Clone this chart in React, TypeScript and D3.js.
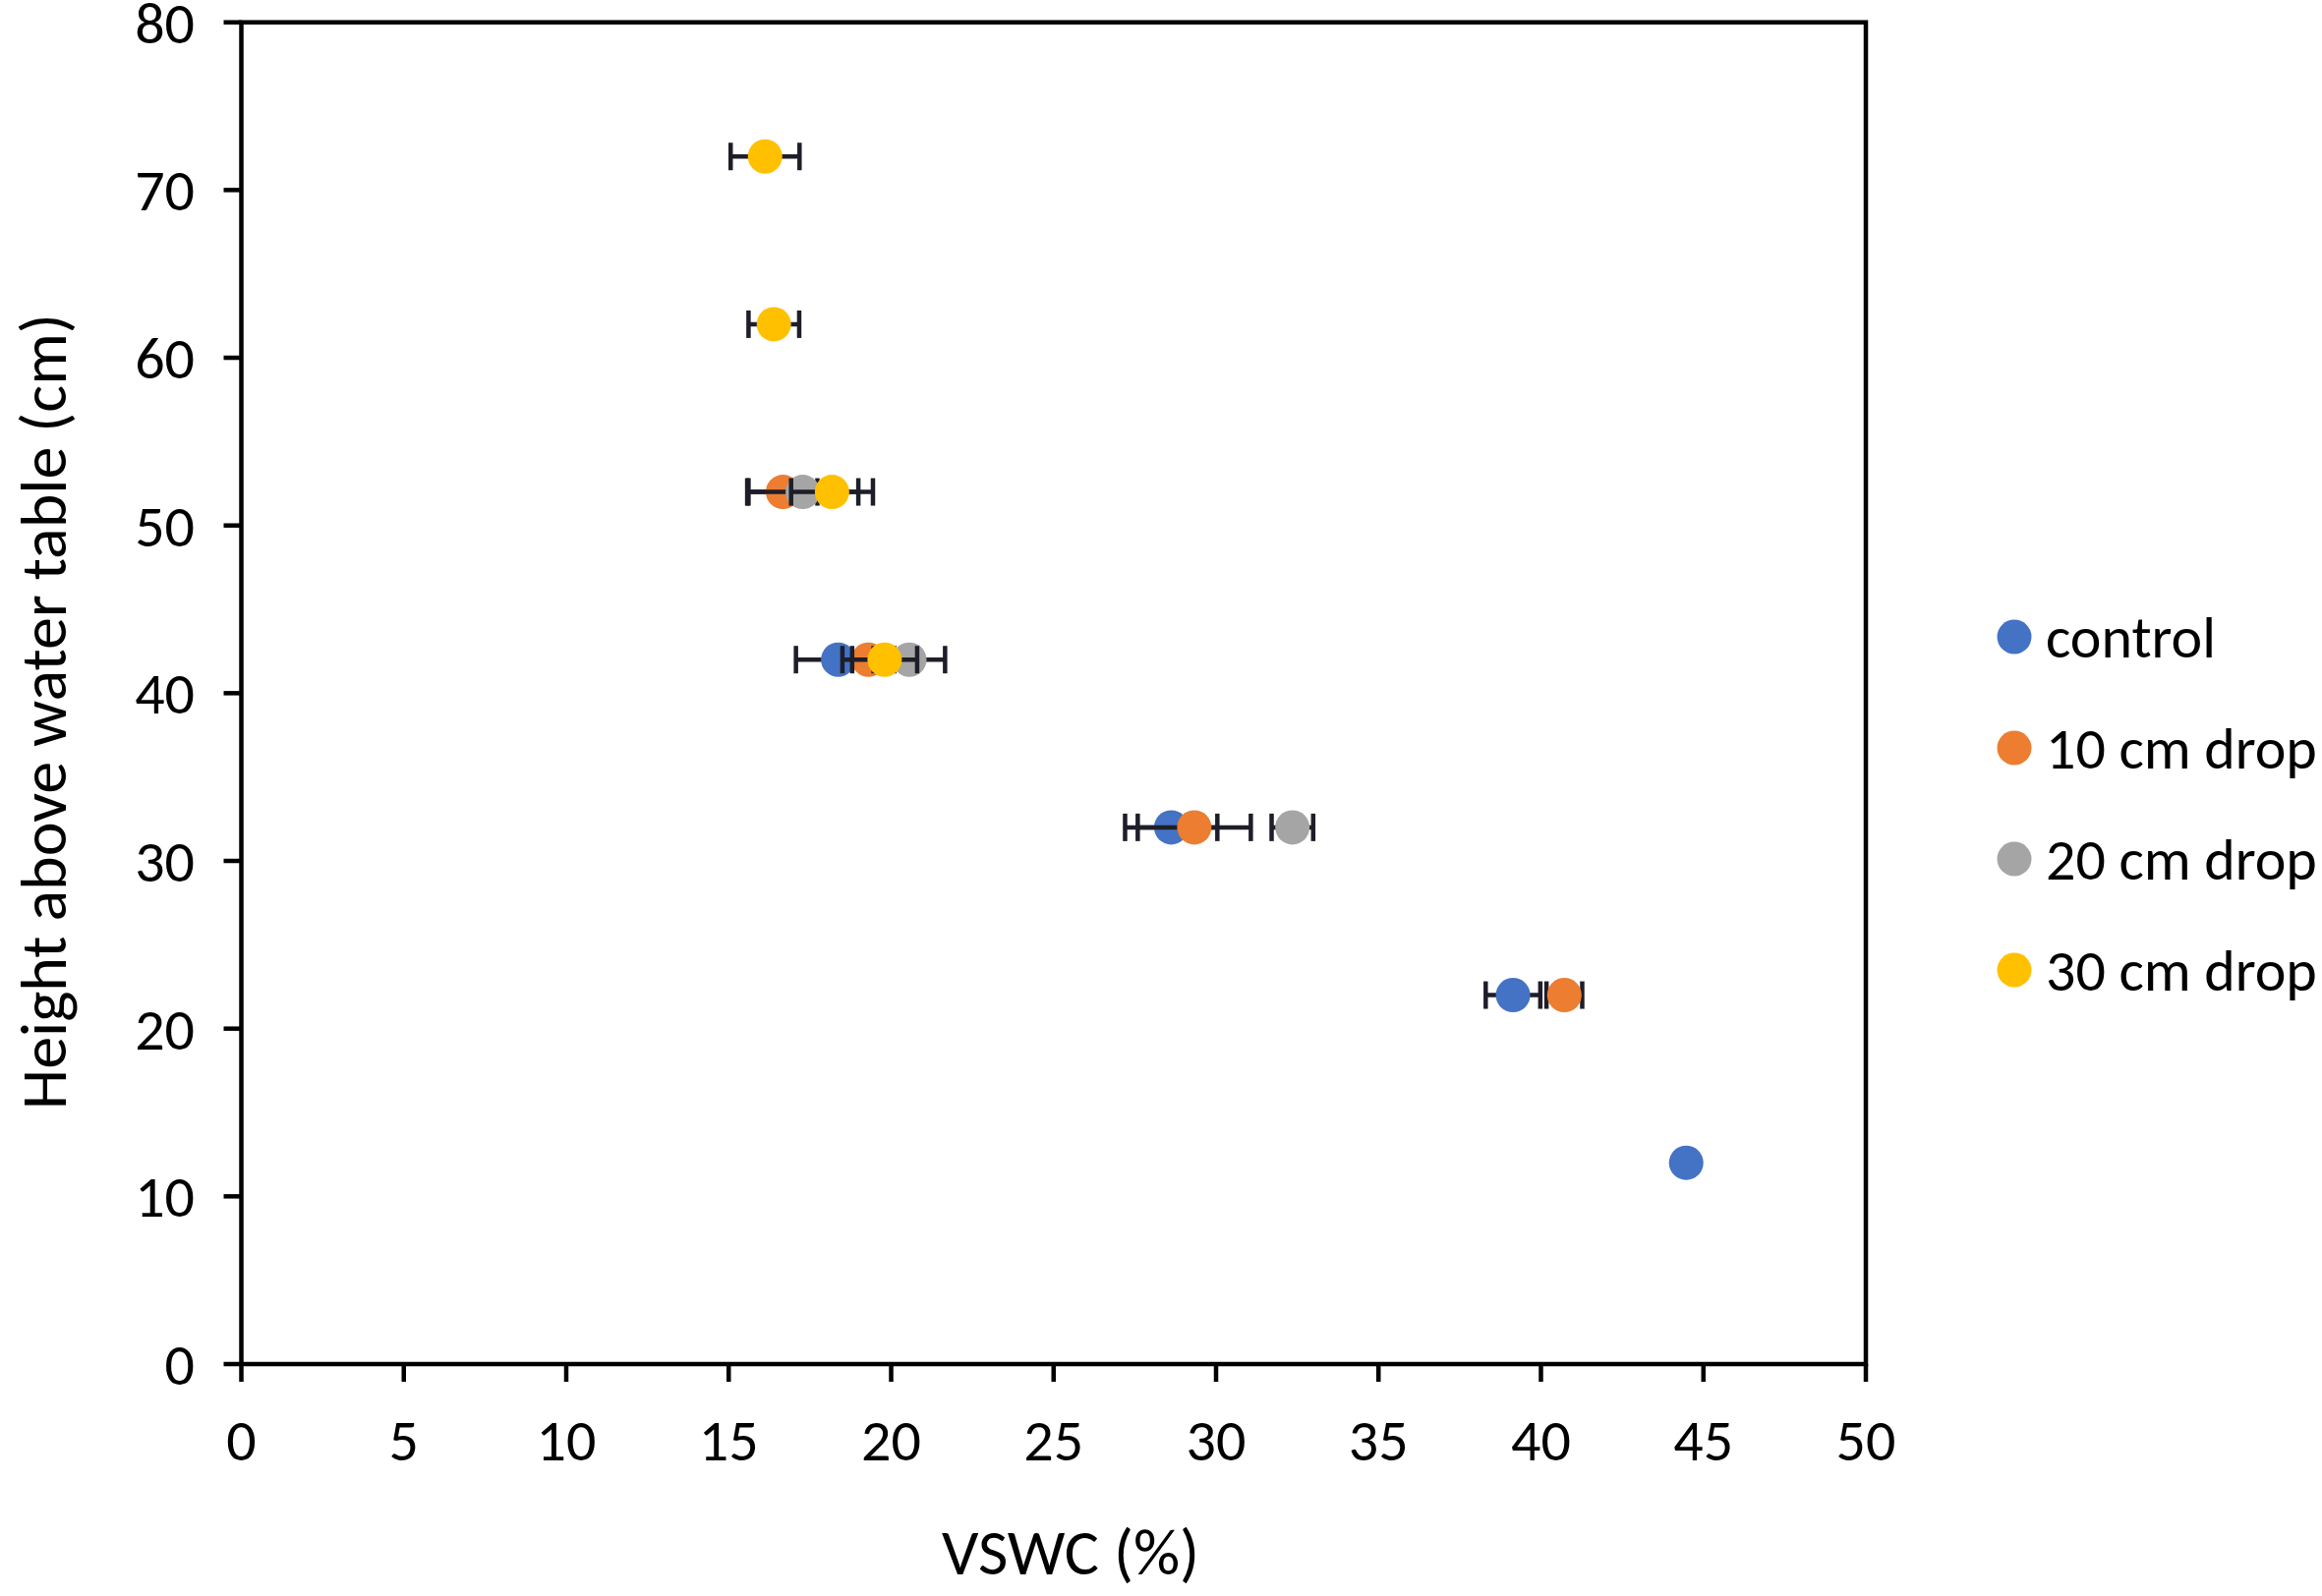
import { scaleLinear } from 'd3'

// Series values (x = VSWC %, y = height, err = ± half-width)
const SERIES_NAMES = ['control', '10 cm drop', '20 cm drop', '30 cm drop']
const SERIES_COLORS = ['#4472C4', '#ED7D31', '#A5A5A5', '#FFC000']

const CONTROL_X = [44.47, 39.14, 28.62, 18.37]
const CONTROL_Y = [12, 22, 32, 42]
const CONTROL_ERR = [0, 0.84, 1.42, 1.3]

const DROP10_X = [40.72, 29.33, 19.3, 16.67]
const DROP10_Y = [22, 32, 42, 52]
const DROP10_ERR = [0.55, 1.74, 0.8, 1.06]

const DROP20_X = [32.35, 20.56, 17.28]
const DROP20_Y = [32, 42, 52]
const DROP20_ERR = [0.64, 1.1, 1.71]

const DROP30_X = [19.8, 18.18, 16.39, 16.12]
const DROP30_Y = [42, 52, 62, 72]
const DROP30_ERR = [1.0, 1.26, 0.78, 1.06]

const X_TICKS = [0, 5, 10, 15, 20, 25, 30, 35, 40, 45, 50]
const Y_TICKS = [0, 10, 20, 30, 40, 50, 60, 70, 80]

const W = 2362
const H = 1624
const LEFT = 245.5
const RIGHT = 1898
const TOP = 22.7
const BOTTOM = 1388
const FONT = 'Carlito, Calibri, Lato, sans-serif'
const TICK_FONT = 60
const R = 17.5
const CAP = 14

export default function App() {
  const x = scaleLinear().domain([0, 50]).range([LEFT, RIGHT])
  const y = scaleLinear().domain([0, 80]).range([BOTTOM, TOP])

  const series = [
    { xs: CONTROL_X, ys: CONTROL_Y, err: CONTROL_ERR },
    { xs: DROP10_X, ys: DROP10_Y, err: DROP10_ERR },
    { xs: DROP20_X, ys: DROP20_Y, err: DROP20_ERR },
    { xs: DROP30_X, ys: DROP30_Y, err: DROP30_ERR },
  ]

  return (
    <svg
      width={W}
      height={H}
      viewBox={`0 0 ${W} ${H}`}
      style={{ position: 'absolute', left: 0, top: 0, background: '#fff' }}
    >
      <rect x={0} y={0} width={W} height={H} fill="#fff" />

      {/* series: error bars first, then markers, per series */}
      {series.map((s, si) => (
        <g key={si}>
          {s.xs.map((v, i) =>
            s.err[i] > 0 ? (
              <g key={i} stroke="#1e1e2a" strokeWidth={4.5}>
                <line x1={x(v - s.err[i])} x2={x(v + s.err[i])} y1={y(s.ys[i])} y2={y(s.ys[i])} />
                <line x1={x(v - s.err[i])} x2={x(v - s.err[i])} y1={y(s.ys[i]) - CAP} y2={y(s.ys[i]) + CAP} />
                <line x1={x(v + s.err[i])} x2={x(v + s.err[i])} y1={y(s.ys[i]) - CAP} y2={y(s.ys[i]) + CAP} />
              </g>
            ) : null
          )}
          {s.xs.map((v, i) => (
            <circle key={'m' + i} cx={x(v)} cy={y(s.ys[i])} r={R} fill={SERIES_COLORS[si]} />
          ))}
        </g>
      ))}

      {/* frame */}
      <rect x={LEFT} y={TOP} width={RIGHT - LEFT} height={BOTTOM - TOP} fill="none" stroke="#000" strokeWidth={4.5} />

      {/* y axis ticks */}
      {Y_TICKS.map((t) => (
        <g key={'y' + t}>
          <line x1={LEFT - 18} x2={LEFT} y1={y(t)} y2={y(t)} stroke="#000" strokeWidth={4.5} />
          <text x={198} y={y(t) + 21} textAnchor="end" fontFamily={FONT} fontSize={TICK_FONT} fill="#000">
            {t}
          </text>
        </g>
      ))}

      {/* x axis ticks */}
      {X_TICKS.map((t) => (
        <g key={'x' + t}>
          <line x1={x(t)} x2={x(t)} y1={BOTTOM} y2={BOTTOM + 18} stroke="#000" strokeWidth={4.5} />
          <text x={x(t)} y={1486} textAnchor="middle" fontFamily={FONT} fontSize={TICK_FONT} fill="#000">
            {t}
          </text>
        </g>
      ))}

      <text
        x={44}
        y={724}
        transform="rotate(-90 44 724)"
        textAnchor="middle"
        dominantBaseline="central"
        fontFamily={FONT}
        fontSize={66}
        fill="#000"
      >
        Height above water table (cm)
      </text>
      <text x={1089} y={1602} textAnchor="middle" fontFamily={FONT} fontSize={66} fill="#000">
        VSWC (%)
      </text>

      {/* legend */}
      {SERIES_NAMES.map((name, i) => (
        <g key={name}>
          <circle cx={2049} cy={648 + i * 113} r={R} fill={SERIES_COLORS[i]} />
          <text x={2081} y={648 + i * 113} dominantBaseline="central" fontFamily={FONT} fontSize={60} fill="#000">
            {name}
          </text>
        </g>
      ))}
    </svg>
  )
}
